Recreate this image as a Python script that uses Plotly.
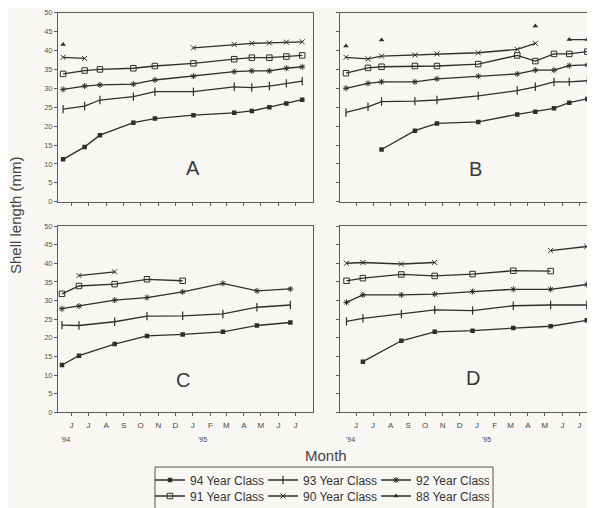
import plotly.graph_objects as go

# ---------------- data ----------------
series_names = ["94 Year Class", "93 Year Class", "92 Year Class",
                "91 Year Class", "90 Year Class", "88 Year Class"]

A_dates = ["1994-05-31", "1994-07-08", "1994-08-04", "1994-10-02", "1994-11-09", "1995-01-16",
           "1995-03-29", "1995-04-29", "1995-05-30", "1995-06-29", "1995-07-27"]
A_94 = [11.2, 14.5, 17.6, 20.9, 22.0, 22.9, 23.5, 24.0, 25.0, 26.0, 27.0]
A_93 = [24.5, 25.3, 26.9, 27.8, 29.1, 29.1, 30.4, 30.2, 30.6, 31.3, 31.9]
A_92 = [29.7, 30.6, 30.9, 31.1, 32.2, 33.2, 34.4, 34.6, 34.6, 35.3, 35.7]
A_91 = [33.8, 34.7, 35.0, 35.3, 35.9, 36.6, 37.7, 38.1, 38.1, 38.4, 38.7]
A_90 = [38.2, 37.9, None, None, None, 40.7, 41.6, 41.9, 42.0, 42.2, 42.3]
A_88 = [41.6, None, None, None, None, None, None, None, None, None, None]

B_dates = ["1994-05-28", "1994-07-06", "1994-07-30", "1994-09-27", "1994-11-05", "1995-01-17",
           "1995-03-27", "1995-04-28", "1995-05-31", "1995-06-27", "1995-07-29"]
B_94 = [None, None, 13.8, 18.8, 20.7, 21.1, 23.1, 23.8, 24.7, 26.2, 27.2]
B_93 = [23.6, 25.1, 26.5, 26.6, 26.9, 28.0, 29.4, 30.4, 31.7, 31.7, 32.0]
B_92 = [30.0, 31.3, 31.7, 31.7, 32.5, 33.2, 33.8, 34.8, 34.8, 36.0, 36.2]
B_91 = [34.0, 35.4, 35.7, 35.9, 35.9, 36.4, 38.7, 37.2, 39.1, 39.1, 39.7]
B_90 = [38.2, 37.8, 38.5, 38.8, 39.1, 39.4, 40.3, 41.9, None, None, None]
B_88 = [41.2, None, 42.8, None, None, None, None, 46.5, None, 42.9, 42.9]

C_dates = ["1994-05-29", "1994-06-28", "1994-08-30", "1994-10-26", "1994-12-28",
           "1995-03-09", "1995-05-08", "1995-07-06"]
C_94 = [12.7, 15.2, 18.3, 20.5, 20.9, 21.6, 23.3, 24.1]
C_93 = [23.4, 23.3, 24.3, 25.8, 25.9, 26.4, 28.2, 28.8]
C_92 = [27.8, 28.5, 30.1, 30.8, 32.3, 34.6, 32.6, 33.1]
C_91 = [31.8, 33.9, 34.4, 35.7, 35.3, None, None, None]
C_90 = [None, 36.7, 37.7, None, None, None, None, None]
C_88 = [None, None, None, None, None, None, None, None]

D_dates = ["1994-05-29", "1994-06-27", "1994-09-03", "1994-11-01", "1995-01-07",
           "1995-03-20", "1995-05-25", "1995-07-28"]
D_94 = [None, 13.6, 19.2, 21.6, 21.9, 22.6, 23.1, 24.7]
D_93 = [24.4, 25.2, 26.4, 27.5, 27.3, 28.6, 28.8, 28.8]
D_92 = [29.5, 31.5, 31.5, 31.7, 32.4, 33.0, 33.0, 34.3]
D_91 = [35.3, 36.0, 37.0, 36.6, 37.1, 38.0, 37.9, None]
D_90 = [40.0, 40.2, 39.8, 40.2, None, None, 43.4, 44.5]
D_88 = [None, None, None, None, None, None, None, None]

month_ticks = ["1994-06-15", "1994-07-15", "1994-08-15", "1994-09-15", "1994-10-15",
               "1994-11-15", "1994-12-15", "1995-01-15", "1995-02-15", "1995-03-15",
               "1995-04-15", "1995-05-15", "1995-06-15", "1995-07-15"]
month_labels = ["J", "J", "A", "S", "O", "N", "D", "J", "F", "M", "A", "M", "J", "J"]
y_ticks = [0, 5, 10, 15, 20, 25, 30, 35, 40, 45, 50]
panel_labels = ["A", "B", "C", "D"]

# ---------------- styling / layout ----------------
FONT = "Liberation Sans, Arial, sans-serif"
INK = "#2e2e2e"
AX = "#5a5a5a"
BG = "#f8f7f3"

# page has an 8px body margin: figure is sized so it ends exactly at the window edge
OFF = 8
W, H = 595 - OFF, 508 - OFF

def fx(px):
    return (px - OFF) / W

def fy(py):
    return 1 - (py - OFF) / H

styles = [
    dict(symbol="square", size=4.5, line=dict(width=0)),
    dict(symbol="line-ns", size=6, line=dict(width=1.2, color=INK)),
    dict(symbol="asterisk-open", size=5, line=dict(width=1, color=INK)),
    dict(symbol="square-open", size=5.5, line=dict(width=1, color=INK)),
    dict(symbol="x-thin-open", size=5, line=dict(width=1, color=INK)),
    dict(symbol="triangle-up", size=5, line=dict(width=0)),
]
legend_of = ["legend", "legend", "legend", "legend2", "legend2", "legend2"]

panels = [
    (A_dates, [A_94, A_93, A_92, A_91, A_90, A_88], "x", "y"),
    (B_dates, [B_94, B_93, B_92, B_91, B_90, B_88], "x2", "y2"),
    (C_dates, [C_94, C_93, C_92, C_91, C_90, C_88], "x3", "y3"),
    (D_dates, [D_94, D_93, D_92, D_91, D_90, D_88], "x4", "y4"),
]

fig = go.Figure()
for pi, (dates, vals, xa, ya) in enumerate(panels):
    for si, v in enumerate(vals):
        fig.add_trace(go.Scatter(
            x=dates, y=v, xaxis=xa, yaxis=ya, mode="lines+markers",
            name=series_names[si], legendgroup=series_names[si],
            legend=legend_of[si], showlegend=(pi == 0),
            line=dict(color=INK, width=1.3),
            marker=dict(color=INK, **styles[si]),
            connectgaps=False,
        ))

xdomA = [fx(58), fx(313)]
xdomB = [fx(340), fx(593)]
ydomTop = [fy(201.7), fy(12.7)]
ydomBot = [fy(412.3), fy(226)]
rangeAC = ["1994-05-22", "1995-08-15"]
rangeBD = ["1994-05-17 12:00", "1995-08-08"]

def xax(dom, rng, labels):
    return dict(domain=dom, range=rng, type="date", tickvals=month_ticks, ticktext=month_labels,
                showticklabels=labels, ticks="outside", ticklen=3, tickcolor=AX,
                showline=True, linecolor=AX, linewidth=1, mirror=True, showgrid=False,
                zeroline=False, tickfont=dict(size=8, color="#444", family=FONT),
                ticklabelstandoff=2)

def yax(dom, labels, anchor):
    return dict(domain=dom, range=[0, 50], tickvals=y_ticks, showticklabels=labels,
                ticks="outside", ticklen=3, tickcolor=AX, showline=True, linecolor=AX,
                linewidth=1, mirror=True, showgrid=False, zeroline=False, anchor=anchor,
                tickfont=dict(size=7.5, color="#555", family=FONT))

leg_common = dict(orientation="h", xanchor="left", yanchor="middle",
                  borderwidth=0, bgcolor="rgba(0,0,0,0)",
                  font=dict(size=12, color="#333", family=FONT),
                  entrywidth=68, entrywidthmode="pixels", itemwidth=30)

fig.update_layout(
    width=W, height=H, autosize=False,
    margin=dict(l=0, r=0, t=0, b=0, autoexpand=False),
    paper_bgcolor=BG, plot_bgcolor=BG,
    font=dict(family=FONT, color=INK),
    xaxis=dict(**xax(xdomA, rangeAC, False), anchor="y"),
    xaxis2=dict(**xax(xdomB, rangeBD, False), anchor="y2"),
    xaxis3=dict(**xax(xdomA, rangeAC, True), anchor="y3"),
    xaxis4=dict(**xax(xdomB, rangeBD, True), anchor="y4"),
    yaxis=yax(ydomTop, True, "x"),
    yaxis2=yax(ydomTop, False, "x2"),
    yaxis3=yax(ydomBot, True, "x3"),
    yaxis4=yax(ydomBot, False, "x4"),
    legend=dict(x=fx(150), y=fy(480), **leg_common),
    legend2=dict(x=fx(150), y=fy(496), **leg_common),
    showlegend=True,
    shapes=[dict(type="rect", xref="paper", yref="paper",
                 x0=fx(155), x1=fx(493), y0=fy(512), y1=fy(467),
                 line=dict(color="#555", width=1), fillcolor="rgba(0,0,0,0)")],
)

C = dict(xanchor="center", yanchor="middle", showarrow=False)
ann = []
for lab, (px, py) in zip(panel_labels, [(193, 168), (475, 169), (183, 380), (473, 378)]):
    ann.append(dict(text=lab, x=fx(px), y=fy(py), xref="paper", yref="paper",
                    font=dict(size=20, color="#3a3a3a", family=FONT), **C))
for xr in ["x3", "x4"]:
    ann.append(dict(text="'94", x="1994-06-05", y=fy(439), xref=xr, yref="paper",
                    font=dict(size=7, color="#444", family=FONT), **C))
    ann.append(dict(text="'95", x="1995-02-01", y=fy(439), xref=xr, yref="paper",
                    font=dict(size=7, color="#444", family=FONT), **C))
ann.append(dict(text="Shell length (mm)", x=fx(16), y=fy(215), xref="paper", yref="paper",
                textangle=-90, font=dict(size=15, color="#444", family=FONT), **C))
ann.append(dict(text="Month", x=fx(326), y=fy(455), xref="paper", yref="paper",
                font=dict(size=15, color="#444", family=FONT), **C))
fig.update_layout(annotations=ann)

fig.write_html("out.html")
